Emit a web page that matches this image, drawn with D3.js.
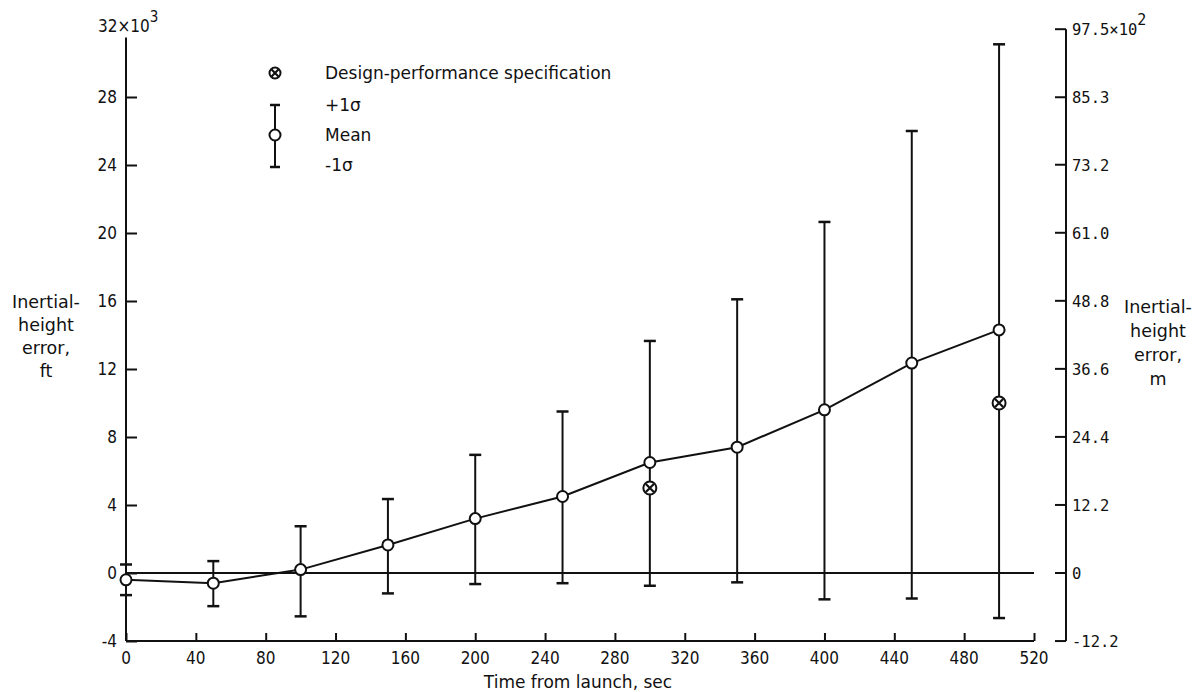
<!DOCTYPE html>
<html>
<head>
<meta charset="utf-8">
<script src="https://cdn.jsdelivr.net/npm/d3@7"></script>
<style>
    body { margin: 0; background: #fff; }
    svg { display: block; }
    text { font-family: "DejaVu Sans Condensed", "DejaVu Sans", sans-serif; fill: #111; }
    .wide { font-family: "DejaVu Sans", sans-serif; }
    .mono { font-family: "DejaVu Sans Mono", monospace; }
</style>
</head>
<body>
<svg id="chart" width="1204" height="692"></svg>
<script>
// Inertial-height error vs time from launch (thousands of ft)
const TIMES = [0, 50, 100, 150, 200, 250, 300, 350, 400, 450, 500];
const MEAN_FT = [-0.4, -0.6, 0.2, 1.65, 3.2, 4.5, 6.5, 7.4, 9.6, 12.35, 14.3];
const PLUS_SIGMA_FT = [0.5, 0.7, 2.75, 4.35, 6.95, 9.5, 13.65, 16.1, 20.65, 26.0, 31.1];
const MINUS_SIGMA_FT = [-1.3, -1.95, -2.55, -1.2, -0.65, -0.6, -0.75, -0.55, -1.55, -1.5, -2.65];

const SPEC_TIMES = [300, 500];
const SPEC_FT = [5.0, 10.0];

const X_TICKS = [0, 40, 80, 120, 160, 200, 240, 280, 320, 360, 400, 440, 480, 520];
const LEFT_TICKS = [-4, 0, 4, 8, 12, 16, 20, 24, 28];
const RIGHT_TICKS = [-12.2, 0, 12.2, 24.4, 36.6, 48.8, 61.0, 73.2, 85.3, 97.5];

const FT_TO_HM = 0.3048 * 10; // thousands of ft -> hundreds of m

const svg = d3.select("#chart");

const xScale = d3.scaleLinear().domain([0, 520]).range([126, 1034]);
const yScale = d3.scaleLinear().domain([-4, 32]).range([641, 29]);
const mScale = d3.scaleLinear()
    .domain([-4 * FT_TO_HM, 32 * FT_TO_HM])
    .range([641, 29]);

const rightAxisX = 1066;

// Left axis
const leftAxis = d3.axisRight(yScale)
    .tickValues(LEFT_TICKS)
    .tickSize(11)
    .tickFormat("");
const leftG = svg.append("g")
    .attr("transform", "translate(" + xScale(0) + ",0)")
    .call(leftAxis);
leftG.select(".domain").remove();
leftG.selectAll("line").attr("stroke", "#111").attr("stroke-width", 2);

svg.append("line")
    .attr("x1", xScale(0)).attr("x2", xScale(0))
    .attr("y1", yScale(-4)).attr("y2", yScale(31.5))
    .attr("stroke", "#111").attr("stroke-width", 2);

svg.selectAll(".left-label")
    .data(LEFT_TICKS)
    .enter()
    .append("text")
    .classed("left-label", true)
    .attr("x", xScale(0) - 9)
    .attr("y", (d) => yScale(d) + 6)
    .attr("text-anchor", "end")
    .attr("font-size", 17)
    .text((d) => d);

const topLeft = svg.append("text")
    .attr("x", 98)
    .attr("y", 32)
    .attr("font-size", 17);
topLeft.append("tspan").text("32×10");
topLeft.append("tspan").attr("dy", -10).attr("font-size", 15).text("3");

// Bottom axis
const bottomAxis = d3.axisTop(xScale)
    .tickValues(X_TICKS)
    .tickSize(8)
    .tickFormat("");
const bottomG = svg.append("g")
    .attr("transform", "translate(0," + yScale(-4) + ")")
    .call(bottomAxis);
bottomG.select(".domain").remove();
bottomG.selectAll("line").attr("stroke", "#111").attr("stroke-width", 2);

svg.append("line")
    .attr("x1", xScale(0)).attr("x2", xScale(520))
    .attr("y1", yScale(-4)).attr("y2", yScale(-4))
    .attr("stroke", "#111").attr("stroke-width", 2);

svg.selectAll(".x-label")
    .data(X_TICKS)
    .enter()
    .append("text")
    .classed("x-label", true)
    .attr("x", (d) => xScale(d))
    .attr("y", 664)
    .attr("text-anchor", "middle")
    .attr("font-size", 17)
    .text((d) => d);

svg.append("text")
    .classed("wide", true)
    .attr("x", 578)
    .attr("y", 688)
    .attr("text-anchor", "middle")
    .attr("font-size", 17)
    .text("Time from launch,  sec");

// Zero line
svg.append("line")
    .attr("x1", xScale(0)).attr("x2", xScale(520))
    .attr("y1", yScale(0)).attr("y2", yScale(0))
    .attr("stroke", "#111").attr("stroke-width", 2);

// Right axis (metres)
svg.append("line")
    .attr("x1", rightAxisX).attr("x2", rightAxisX)
    .attr("y1", mScale(-12.2)).attr("y2", mScale(97.5))
    .attr("stroke", "#111").attr("stroke-width", 2);

svg.selectAll(".right-tick")
    .data(RIGHT_TICKS)
    .enter()
    .append("line")
    .classed("right-tick", true)
    .attr("x1", rightAxisX - 11).attr("x2", rightAxisX)
    .attr("y1", (d) => mScale(d)).attr("y2", (d) => mScale(d))
    .attr("stroke", "#111").attr("stroke-width", 2);

svg.selectAll(".right-label")
    .data(RIGHT_TICKS)
    .enter()
    .append("text")
    .classed("right-label", true)
    .classed("mono", true)
    .attr("x", rightAxisX + 6)
    .attr("y", (d) => mScale(d) + 6)
    .attr("font-size", 15.5)
    .each(function (d) {
        const t = d3.select(this);
        const label = d === 0 ? "0" : d.toFixed(1);
        if (d === 97.5) {
            t.append("tspan").text(label + "×10");
            t.append("tspan").attr("dy", -10).attr("font-size", 15).text("2");
        } else {
            t.text(label);
        }
    });

// Axis titles
const addTitle = (lines, x, y0, step) => {
    svg.append("text")
        .classed("wide", true)
        .attr("font-size", 17.5)
        .attr("text-anchor", "middle")
        .selectAll("tspan")
        .data(lines)
        .enter()
        .append("tspan")
        .attr("x", x)
        .attr("y", (d, i) => y0 + i * step)
        .text((d) => d);
};
addTitle(["Inertial-", "height", "error,", "ft"], 46, 308, 23);
addTitle(["Inertial-", "height", "error,", "m"], 1158, 313, 24);

// Error bars
const points = TIMES.map((t, i) => ({
    "t": t,
    "mean": MEAN_FT[i],
    "hi": PLUS_SIGMA_FT[i],
    "lo": MINUS_SIGMA_FT[i]
}));

const capHalf = 6;
const bars = svg.selectAll(".bar")
    .data(points)
    .enter()
    .append("g")
    .classed("bar", true)
    .attr("stroke", "#111")
    .attr("stroke-width", 2);

bars.append("line")
    .attr("x1", (d) => xScale(d.t)).attr("x2", (d) => xScale(d.t))
    .attr("y1", (d) => yScale(d.lo)).attr("y2", (d) => yScale(d.hi));
bars.append("line")
    .attr("x1", (d) => xScale(d.t) - capHalf).attr("x2", (d) => xScale(d.t) + capHalf)
    .attr("y1", (d) => yScale(d.hi)).attr("y2", (d) => yScale(d.hi))
    .attr("stroke-width", 2.5);
bars.append("line")
    .attr("x1", (d) => xScale(d.t) - capHalf).attr("x2", (d) => xScale(d.t) + capHalf)
    .attr("y1", (d) => yScale(d.lo)).attr("y2", (d) => yScale(d.lo))
    .attr("stroke-width", 2.5);

// Mean line
const meanLine = d3.line()
    .x((d) => xScale(d.t))
    .y((d) => yScale(d.mean));

svg.append("path")
    .datum(points)
    .attr("d", meanLine)
    .attr("fill", "none")
    .attr("stroke", "#111")
    .attr("stroke-width", 2);

svg.selectAll(".mean")
    .data(points)
    .enter()
    .append("circle")
    .classed("mean", true)
    .attr("cx", (d) => xScale(d.t))
    .attr("cy", (d) => yScale(d.mean))
    .attr("r", 5.5)
    .attr("fill", "#fff")
    .attr("stroke", "#111")
    .attr("stroke-width", 2);

// Design-performance specification symbols
const drawSpec = (sel, r) => {
    sel.append("circle")
        .attr("r", r)
        .attr("fill", "#fff")
        .attr("stroke", "#111")
        .attr("stroke-width", 2);
    const k = r * 0.62;
    sel.append("path")
        .attr("d", "M" + (-k) + "," + (-k) + "L" + k + "," + k +
                   "M" + k + "," + (-k) + "L" + (-k) + "," + k)
        .attr("stroke", "#111")
        .attr("stroke-width", 2.2);
};

const specs = svg.selectAll(".spec")
    .data(SPEC_TIMES.map((t, i) => ({"t": t, "v": SPEC_FT[i]})))
    .enter()
    .append("g")
    .classed("spec", true)
    .attr("transform", (d) => "translate(" + xScale(d.t) + " " + yScale(d.v) + ")");
drawSpec(specs, 6.5);

// Legend
const legend = svg.append("g").attr("transform", "translate(275 0)");
drawSpec(legend.append("g").attr("transform", "translate(0 73)"), 5.5);

const lg = legend.append("g").attr("stroke", "#111").attr("stroke-width", 2);
lg.append("line").attr("x1", 0).attr("x2", 0).attr("y1", 105).attr("y2", 167);
lg.append("line").attr("x1", -5).attr("x2", 5).attr("y1", 105).attr("y2", 105).attr("stroke-width", 2.5);
lg.append("line").attr("x1", -5).attr("x2", 5).attr("y1", 167).attr("y2", 167).attr("stroke-width", 2.5);
lg.append("circle").attr("cx", 0).attr("cy", 135).attr("r", 5.5).attr("fill", "#fff");

const LEGEND_LABELS = ["Design-performance specification", "+1σ", "Mean", "-1σ"];
const LEGEND_Y = [79, 111, 141, 171];
legend.selectAll(".legend-label")
    .data(LEGEND_LABELS)
    .enter()
    .append("text")
    .classed("legend-label", true)
    .classed("wide", true)
    .attr("x", 50)
    .attr("y", (d, i) => LEGEND_Y[i])
    .attr("font-size", 17)
    .text((d) => d);
</script>
</body>
</html>
